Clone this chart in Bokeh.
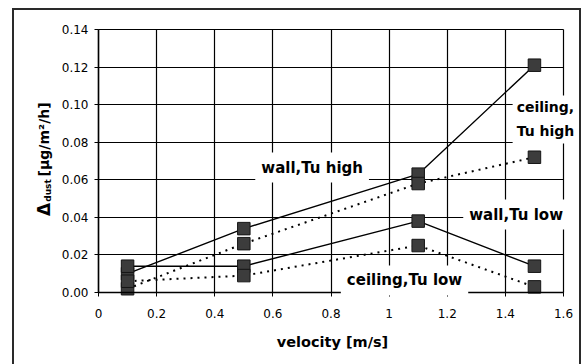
import math
from bokeh.plotting import figure
from bokeh.models import Label, FixedTicker, Range1d, Grid
from bokeh.embed import file_html
from bokeh.resources import INLINE

# ---- data ----
velocity = [0.1, 0.5, 1.1, 1.5]
ceiling_tu_high = [0.010, 0.034, 0.063, 0.121]   # solid
wall_tu_high = [0.002, 0.026, 0.058, 0.072]      # dotted
wall_tu_low = [0.014, 0.014, 0.038, 0.014]       # solid
ceiling_tu_low = [0.006, 0.009, 0.025, 0.003]    # dotted

x_ticks = [0, 0.2, 0.4, 0.6, 0.8, 1, 1.2, 1.4, 1.6]
x_tick_labels = ["0", "0.2", "0.4", "0.6", "0.8", "1", "1.2", "1.4", "1.6"]
y_ticks = [0, 0.02, 0.04, 0.06, 0.08, 0.10, 0.12, 0.14]
y_tick_labels = ["0.00", "0.02", "0.04", "0.06", "0.08", "0.10", "0.12", "0.14"]

FONT = "DejaVu Sans"

# canvas = frame; plot box 0..1.6 x 0..0.14 sits inside it
W, H = 569, 356
X0PX, Y0PX = 86, 284          # canvas px of the data origin
XS, YS = 465 / 1.6, 263 / 0.14  # px per data unit
p = figure(
    width=W, height=H,
    min_border_left=0, min_border_right=0, min_border_top=0, min_border_bottom=0,
    x_range=Range1d(-X0PX / XS, (W - X0PX) / XS),
    y_range=Range1d(-(H - Y0PX) / YS, Y0PX / YS),
    output_backend="svg", toolbar_location=None,
)
p.styles = {"margin-left": "12px", "margin-top": "8px",
            "box-shadow": "inset 2px 2px 0 #2a2a2a, inset -2px 0 0 #2a2a2a"}
p.border_fill_color = None
p.background_fill_color = None
p.outline_line_color = None

for ax in (p.xaxis[0], p.yaxis[0]):
    ax.fixed_location = 0
    ax.axis_line_color = "black"
    ax.axis_line_width = 1.5
    ax.major_tick_line_color = "black"
    ax.major_tick_in = 0
    ax.major_tick_out = 4
    ax.minor_tick_line_color = None
    ax.major_label_text_font = FONT
    ax.major_label_text_font_size = "12px"
    ax.major_label_text_color = "black"

p.xaxis.ticker = FixedTicker(ticks=x_ticks)
p.xaxis.bounds = (x_ticks[0], x_ticks[-1])
p.xaxis.major_label_overrides = dict(zip(x_ticks, x_tick_labels))
p.xaxis.major_label_standoff = 12
p.yaxis.ticker = FixedTicker(ticks=y_ticks)
p.yaxis.bounds = (y_ticks[0], y_ticks[-1])
p.yaxis.major_label_overrides = dict(zip(y_ticks, y_tick_labels))
p.yaxis.major_label_standoff = 6

p.xgrid.ticker = FixedTicker(ticks=x_ticks)
p.ygrid.ticker = FixedTicker(ticks=y_ticks)
p.xgrid.bounds = (x_ticks[0], x_ticks[-1])
p.ygrid.bounds = (y_ticks[0], y_ticks[-1])
has_cb = "cross_bounds" in Grid.properties()
if has_cb:
    p.xgrid.cross_bounds = (y_ticks[0], y_ticks[-1])
    p.ygrid.cross_bounds = (x_ticks[0], x_ticks[-1])
    for g in (p.xgrid[0], p.ygrid[0]):
        g.grid_line_color = "black"
        g.grid_line_width = 1.2
        g.grid_line_alpha = 1
else:
    p.xgrid.visible = False
    p.ygrid.visible = False
    p.segment(x0=x_ticks, x1=x_ticks, y0=[y_ticks[0]] * len(x_ticks),
              y1=[y_ticks[-1]] * len(x_ticks), line_color="black", line_width=1.2)
    p.segment(x0=[x_ticks[0]] * len(y_ticks), x1=[x_ticks[-1]] * len(y_ticks),
              y0=y_ticks, y1=y_ticks, line_color="black", line_width=1.2)

# ---- series ----
series = [
    (ceiling_tu_high, "solid"),
    (wall_tu_high, "2 5"),
    (wall_tu_low, "solid"),
    (ceiling_tu_low, "2 5"),
]
for ys, dash in series:
    p.line(velocity, ys, line_color="black",
           line_width=1.4 if dash == "solid" else 2.0, line_dash=dash)
for ys, dash in series:
    p.scatter(velocity, ys, marker="square", size=12.5,
              fill_color="#3c3c3c", line_color="#151515", line_width=1)

# ---- in-chart labels ----
def add_label(txt, x, y, align="center", size="15px", pad=6):
    p.add_layout(Label(x=x, y=y, text=txt, text_align=align, text_baseline="middle",
                       text_font=FONT, text_font_style="bold",
                       text_font_size=size, text_color="black", text_line_height=1.5,
                       background_fill_color="white", padding=pad))

add_label("wall,Tu high", 0.735, 0.0665)
add_label("ceiling,\nTu high", 1.425, 0.0921, align="left", size="14px", pad=4)
add_label("wall,Tu low", 1.437, 0.0415)
add_label("ceiling,Tu low", 1.053, 0.0064)

# ---- axis titles ----
p.add_layout(Label(x=0.805, y=-0.0266, text="velocity [m/s]",
                   text_align="center", text_baseline="middle",
                   text_font=FONT, text_font_style="bold",
                   text_font_size="14.5px", text_color="black"))

def ylab(txt, x, y, size):
    p.add_layout(Label(x=x, y=y, text=txt, angle=math.pi / 2,
                       text_align="center", text_baseline="middle",
                       text_font=FONT, text_font_style="bold",
                       text_font_size=size, text_color="black"))

ylab("Δ", -0.189, 0.0442, "17px")
ylab("dust", -0.175, 0.0543, "9px")
ylab("[µg/m²/h]", -0.187, 0.0815, "14px")

open("out.html", "w").write(file_html(p, INLINE))
